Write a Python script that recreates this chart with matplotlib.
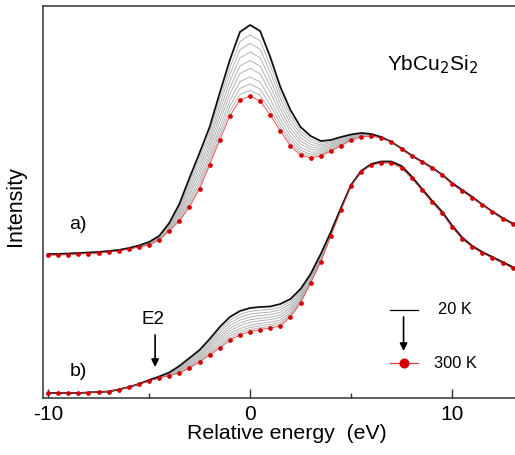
import numpy as np
import matplotlib
matplotlib.use("Agg")
import matplotlib.pyplot as plt

plt.rcParams['font.family'] = ['Liberation Sans', 'DejaVu Sans']

# Energy grid (eV), 0.5 eV steps
energy = np.arange(-10.0, 13.01, 0.5)

# Spectrum a): 20 K and 300 K (arb. units, vertically offset)
a_20K = [144, 144, 144.5, 145, 145.5, 146, 147, 148, 150, 152.5,
         156, 162, 175, 194, 220, 245, 271, 305, 338, 366,
         373, 367, 341, 311, 288, 271, 262, 257, 258, 261,
         263.5, 265, 264, 261, 256, 249.5, 242.5, 236.5, 230.5, 223.5,
         215, 208, 201, 193.5, 186.5, 180, 174.5]
a_300K = [143, 143, 143.5, 144, 144.5, 145, 146, 147, 149, 151,
          153, 158, 167, 177, 191, 209, 233, 258, 282, 298,
          302, 297, 283, 267, 252, 243, 240, 242, 247, 252,
          258, 261, 262, 260, 256, 249, 242, 236, 230, 223,
          214, 207, 200, 193, 186, 179, 174]

# Spectrum b): 20 K and 300 K
b_20K = [5, 5, 5, 5, 5.5, 6, 6.5, 8.5, 11, 14,
         18, 21.5, 25.5, 32, 40, 48, 59, 71, 81, 87,
         90, 91, 91.5, 94, 99, 109, 124, 144, 166, 190,
         213, 227, 234, 236.5, 236.5, 232, 221.5, 209.5, 197.5, 186.5,
         172.5, 160.5, 152, 146, 141, 136, 131]
b_300K = [5, 5, 5, 5, 5.5, 6, 6.5, 8.5, 11, 14,
          17, 20, 22.5, 25, 30, 36, 43, 50, 58, 63,
          66.5, 68.5, 70, 72, 81, 95, 115, 136, 162, 188,
          212, 226, 233, 235, 235, 230, 220, 208, 196, 185,
          171, 159, 151, 145, 140, 135, 130]

# Intermediate temperatures: relative position of each spectrum between 20 K and 300 K
mid_fractions = [0.14, 0.26, 0.38, 0.50, 0.61, 0.73, 0.83, 0.92]

x_ticks = [-10, 0, 10]
x_minor = [-5, 5]

RED = '#d40000'

fig = plt.figure(figsize=(5.15, 4.55), dpi=100)
ax = fig.add_axes([43/515, 57/455, 487/515, 392/455])

for a20, a300 in [(a_20K, a_300K), (b_20K, b_300K)]:
    a20 = np.asarray(a20, float)
    a300 = np.asarray(a300, float)
    for f in mid_fractions:
        ax.plot(energy, a20 + f * (a300 - a20), color='#b4b4b4', lw=0.7, zorder=2)
    ax.plot(energy, a20, color='#111111', lw=1.3, zorder=3)
    ax.plot(energy, a300, color='#e84040', lw=0.6, zorder=4)
    ax.plot(energy, a300, ls='none', marker='o', ms=3.4, mec='none', mfc=RED, zorder=5)

ax.set_xlim(-10.25, 13.86)
ax.set_ylim(0, 392)

ax.set_xticks(x_ticks)
ax.set_xticklabels([str(t) for t in x_ticks])
ax.set_xticks(x_minor, minor=True)
ax.tick_params(axis='x', which='major', direction='in', length=6.5, width=1.0,
               labelsize=15, pad=5, color='#333333')
ax.tick_params(axis='x', which='minor', direction='in', length=3.5, width=1.0, color='#333333')
ax.set_yticks([])
for s in ['left', 'bottom', 'top', 'right']:
    ax.spines[s].set_linewidth(1.1)
    ax.spines[s].set_color('#333333')

ax.set_xlabel('Relative energy  (eV)', fontsize=15.3, labelpad=0)
ax.set_ylabel('Intensity', fontsize=15.5)
ax.yaxis.set_label_coords(-0.034, 0.49)

# Annotations
ax.text(6.78, 328, r'YbCu$_2$Si$_2$', fontsize=15, ha='left', va='baseline')
ax.text(-8.5, 174, 'a)', fontsize=14, ha='center', va='center')
ax.text(-8.5, 27, 'b)', fontsize=14, ha='center', va='center')
ax.text(-4.8, 79, 'E2', fontsize=13.5, ha='center', va='center')
ax.annotate('', xy=(-4.7, 31), xytext=(-4.7, 63),
            arrowprops=dict(arrowstyle='-|>', color='black', lw=1.2,
                            mutation_scale=11, shrinkA=0, shrinkB=0))

# Temperature key
ax.plot([6.93, 8.32], [88, 88], color='black', lw=0.9)
ax.text(9.31, 88, '20 K', fontsize=11.8, ha='left', va='center')
ax.annotate('', xy=(7.6, 47), xytext=(7.6, 81),
            arrowprops=dict(arrowstyle='-|>', color='black', lw=1.2,
                            mutation_scale=11, shrinkA=0, shrinkB=0))
ax.plot([6.93, 8.32], [35, 35], color='#e84040', lw=0.9)
ax.plot([7.62], [35], ls='none', marker='o', ms=7.2, mec='none', mfc=RED)
ax.text(9.11, 35, '300 K', fontsize=11.8, ha='left', va='center')

fig.savefig('out.png', dpi=100)
